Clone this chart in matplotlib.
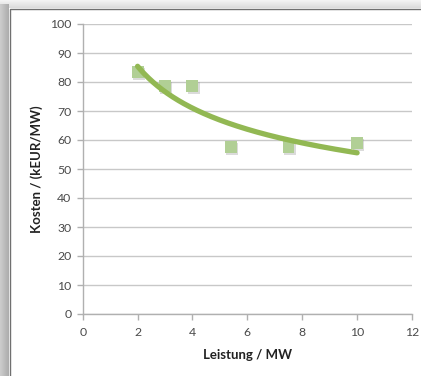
import matplotlib.pyplot as plt
import matplotlib.patheffects as pe
import numpy as np

plt.rcParams.update({
    'font.family': ['Lato', 'DejaVu Sans'],
    'font.size': 8,
})

# Data
leistung = [2.0, 3.0, 4.0, 5.4, 7.5, 10.0]       # MW
kosten = [83.5, 78.7, 78.7, 57.7, 57.7, 59.0]     # kEUR/MW
x_ticks = [0, 2, 4, 6, 8, 10, 12]
y_ticks = [0, 10, 20, 30, 40, 50, 60, 70, 80, 90, 100]

marker_color = '#b1cf95'
trend_color = '#92b853'
grid_color = '#c8c8c8'
text_color = '#4a4a4a'

W, H = 421, 376
fig = plt.figure(figsize=(W / 100, H / 100), dpi=100)
fig.patch.set_facecolor('white')

# Frame with grey shadow strips on the left and top
bg = fig.add_axes([0, 0, 1, 1], zorder=-1)
bg.axis('off')
top_grad = np.linspace(0.96, 0.86, 50).reshape(-1, 1) * np.ones((1, 10))
bg.imshow(np.dstack([top_grad] * 3), extent=(0, W, 8, 0), aspect='auto')
left_grad = np.linspace(0.80, 0.68, 10).reshape(1, -1) * np.ones((10, 1))
bg.imshow(np.dstack([left_grad] * 3), extent=(0, 9, H, 4), aspect='auto')
bg.plot([9.5, 9.5, W], [H, 8.5, 8.5], color='#707070', lw=1.0)
bg.set_xlim(0, W)
bg.set_ylim(H, 0)

ax = fig.add_axes([82.7 / W, 1 - 314 / H, (412 - 82.7) / W, (314 - 24) / H])
ax.set_facecolor('none')

ax.scatter(leistung, kosten, marker='s', s=8.6 ** 2, color=marker_color,
           linewidths=0, zorder=3,
           path_effects=[pe.SimplePatchShadow(offset=(1, -1.5), shadow_rgbFace='#9a9a9a',
                                              alpha=0.35), pe.Normal()])

# Power-law trend line fitted in log-log space
b, log_a = np.polyfit(np.log(leistung), np.log(kosten), 1)
xs = np.linspace(min(leistung), max(leistung), 200)
ax.plot(xs, np.exp(log_a) * xs ** b, color=trend_color, lw=3.8,
        solid_capstyle='round', zorder=4)

ax.set_xlim(0, 12)
ax.set_ylim(0, 100)
ax.set_xticks(x_ticks)
ax.set_yticks(y_ticks)
ax.yaxis.grid(True, color=grid_color, lw=1.0)
ax.set_axisbelow(True)
for side in ('top', 'right'):
    ax.spines[side].set_visible(False)
for side in ('left', 'bottom'):
    ax.spines[side].set_color('#b0b0b0')
    ax.spines[side].set_linewidth(1.0)
ax.tick_params(axis='both', colors='#b0b0b0', labelcolor=text_color,
               length=4, width=1.0, labelsize=8.8)
ax.tick_params(axis='y', pad=4)
ax.tick_params(axis='x', pad=5)

ax.set_xlabel('Leistung / MW', fontsize=9.5, fontweight='bold',
              color='#222222', labelpad=8)
ax.set_ylabel('Kosten / (kEUR/MW)', fontsize=9.5, fontweight='bold',
              color='#222222', labelpad=5)

fig.savefig('out.png', dpi=100, facecolor='white')
